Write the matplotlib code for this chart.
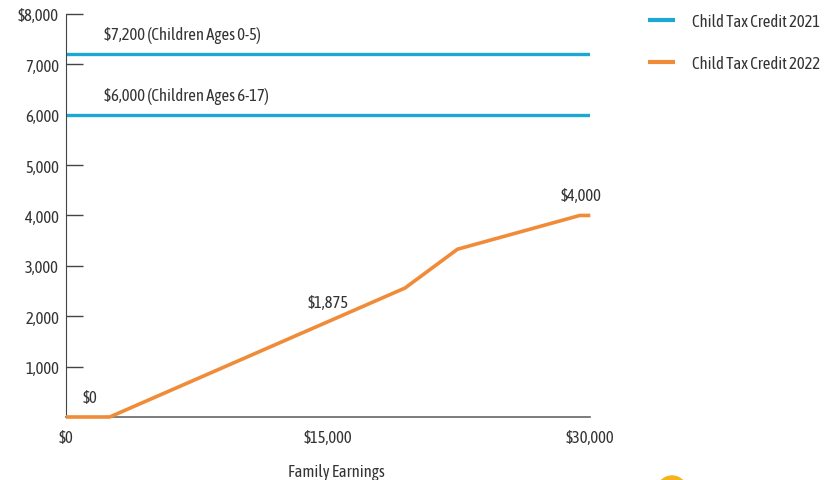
import matplotlib.pyplot as plt
from matplotlib.patches import Ellipse

# data
earn_2022 = [0, 2500, 19400, 22400, 29400, 30000]
credit_2022 = [0, 0, 2560, 3330, 4000, 4000]
credit_2021 = [7200, 6000]
labels_2021 = ["$7,200 (Children Ages 0-5)", "$6,000 (Children Ages 6-17)"]
annot_2022 = [(1400, "$0", 0), (15000, "$1,875", 1875), (29500, "$4,000", 4000)]
yticks = [1000, 2000, 3000, 4000, 5000, 6000, 7000, 8000]
ytick_labels = ["1,000", "2,000", "3,000", "4,000", "5,000", "6,000", "7,000", "$8,000"]
xticks = [0, 15000, 30000]
xtick_labels = ["$0", "$15,000", "$30,000"]

plt.rcParams['font.family'] = ['Asap Condensed', 'DejaVu Sans']

blue = "#1ca8d3"
orange = "#f08c38"
txt = "#333333"
fs = 12

fig = plt.figure(figsize=(8.27, 4.81), dpi=100)
ax = fig.add_axes([0.0798, 0.131, 0.634, 0.838])

for v in credit_2021:
    ax.plot([0, 30000], [v, v], color=blue, lw=2.4, solid_capstyle='butt',
            label="Child Tax Credit 2021" if v == credit_2021[0] else None)
ax.plot(earn_2022, credit_2022, color=orange, lw=2.6, solid_capstyle='butt',
        label="Child Tax Credit 2022", zorder=5, clip_on=False)

for v, s in zip(credit_2021, labels_2021):
    ax.text(2200, v + 220, s, fontsize=fs, color=txt, va='bottom', ha='left')
for x, s, y in annot_2022:
    ax.text(x, y + 220, s, fontsize=fs, color=txt, va='bottom', ha='center')

ax.set_xlim(0, 30000)
ax.set_ylim(0, 8000)
ax.set_yticks(yticks)
ax.set_yticklabels(ytick_labels, fontsize=fs, color=txt)
ax.set_xticks(xticks)
ax.set_xticklabels(xtick_labels, fontsize=fs, color=txt)
ax.tick_params(axis='y', direction='in', length=12, width=1, color='#444444', pad=5)
ax.tick_params(axis='x', length=0, pad=9)
ax.set_xlabel("Family Earnings", fontsize=fs, color=txt)
ax.xaxis.set_label_coords(0.515, -0.115)

for sp in ['top', 'right']:
    ax.spines[sp].set_visible(False)
ax.spines['left'].set_color('#444444')
ax.spines['bottom'].set_color('#666666')
ax.spines['bottom'].set_linewidth(1.2)

leg = fig.legend(loc='upper left', bbox_to_anchor=(0.766, 1.003), frameon=False,
                 fontsize=fs, handlelength=1.6, handletextpad=1.0, labelspacing=1.5,
                 labelcolor=txt)
for h in leg.get_lines():
    h.set_linewidth(3)

fig.patches.append(Ellipse((672 / 827, -11 / 481), 30 / 827, 30 / 481,
                           transform=fig.transFigure, color="#f6b41c", zorder=0))

fig.savefig("out.png", dpi=100)
